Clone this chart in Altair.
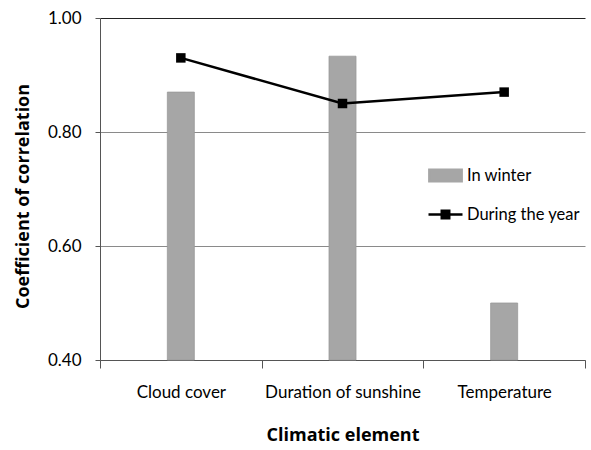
import altair as alt
import pandas as pd

categories = ["Cloud cover", "Duration of sunshine", "Temperature"]
winter_values = [0.87, 0.933, 0.50]
year_values = [0.93, 0.85, 0.87]
series_names = ["In winter", "During the year"]

FONT = "Lato"
TITLE_FONT = "Open Sans"

df = pd.DataFrame({"element": categories, "winter": winter_values, "year": year_values})
leg_df = pd.DataFrame({"series": series_names})

x_enc = alt.X(
    "element:N",
    sort=categories,
    scale=alt.Scale(paddingInner=0, paddingOuter=0),
    axis=alt.Axis(
        title="Climatic element",
        labelAngle=0,
        tickBand="extent",
        tickSize=8,
        labelPadding=16,
        titlePadding=26,
        grid=False,
    ),
)
y_scale = alt.Scale(domain=[0.4, 1.0], zero=False, nice=False)

base = alt.Chart(df)

bars = base.mark_bar(size=27, color="#a6a6a6", stroke="#999999", strokeWidth=0.8).encode(
    x=x_enc,
    y=alt.Y(
        "winter:Q",
        scale=y_scale,
        axis=alt.Axis(
            title="Coefficient of correlation",
            values=[0.4, 0.6, 0.8, 1.0],
            format=".2f",
            tickSize=5,
            labelPadding=14,
            titlePadding=15,
            titleY=178,
            gridColor=alt.condition("datum.value >= 0.99", alt.value("#222222"), alt.value("#8a8a8a")),
        ),
    ),
    y2=alt.datum(0.4),
)

line = base.mark_line(color="black", strokeWidth=2.5).encode(
    x=alt.X("element:N", sort=categories),
    y=alt.Y("year:Q", scale=y_scale),
)
pts = base.mark_point(shape="square", filled=True, size=90, color="black", opacity=1).encode(
    x=alt.X("element:N", sort=categories),
    y=alt.Y("year:Q", scale=y_scale),
)

swatch_path = "M-0.95,-0.34H0.95V0.34H-0.95Z"
line_path = "M-1,0H1M-0.22,-0.22H0.22V0.22H-0.22Z"

legend = alt.Legend(
    title=None,
    orient="none",
    legendX=327,
    legendY=139,
    padding=0,
    symbolOpacity=1,
    symbolSize=1156,
    symbolStrokeWidth=2.5,
    rowPadding=9,
    labelOffset=3,
    labelFont=FONT,
    labelFontSize=16.5,
    labelColor="black",
)
leg_scale_fill = alt.Scale(domain=series_names, range=["#a6a6a6", "black"])
leg_layer = alt.Chart(leg_df).mark_point(filled=True, opacity=0).encode(
    fill=alt.Fill("series:N", scale=leg_scale_fill, legend=legend, sort=series_names),
    stroke=alt.Stroke("series:N", scale=leg_scale_fill, legend=legend, sort=series_names),
    shape=alt.Shape("series:N", scale=alt.Scale(domain=series_names, range=[swatch_path, line_path]), legend=legend, sort=series_names),
)

chart = (
    alt.layer(bars, line, pts, leg_layer)
    .properties(
        width=485,
        height=342,
        autosize=alt.AutoSizeParams(type="none"),
        padding={"left": 100, "top": 18, "right": 6, "bottom": 90},
        background="white",
    )
    .configure_view(stroke=None)
    .configure_axis(
        labelFont=FONT,
        labelFontSize=17,
        labelColor="black",
        titleFont=TITLE_FONT,
        titleFontSize=18,
        titleFontWeight="bold",
        titleColor="black",
        domainColor="#555555",
        tickColor="#555555",
        domainWidth=1,
    )
)

chart.save("out.html", embed_options={"renderer": "svg", "actions": False})
